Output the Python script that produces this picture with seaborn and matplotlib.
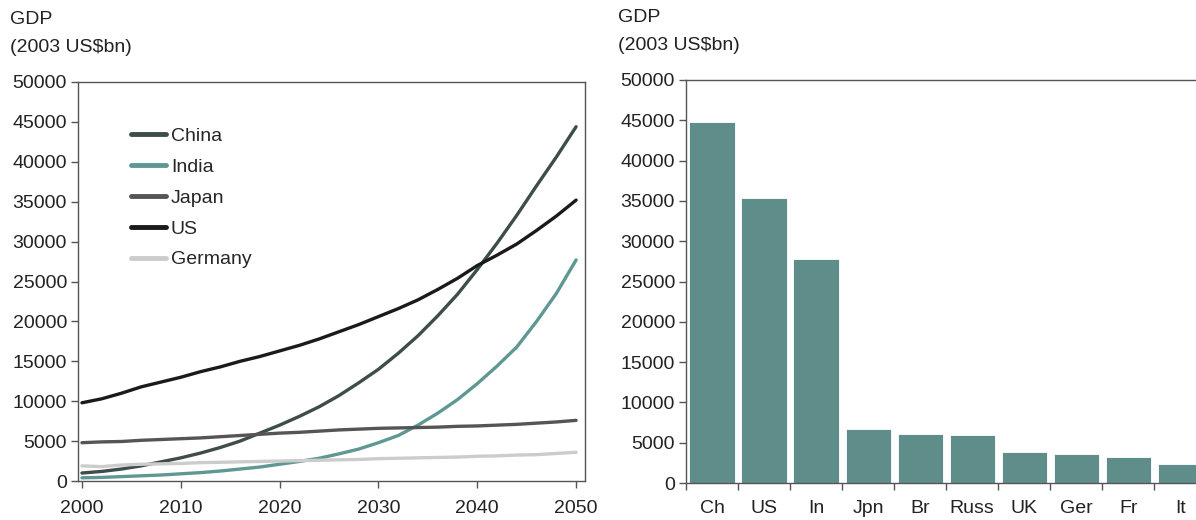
import matplotlib
matplotlib.use("Agg")
import matplotlib.pyplot as plt
from matplotlib.ticker import FixedLocator
import seaborn as sns
import pandas as pd

years = list(range(2000, 2051, 2))
china = [1000, 1200, 1500, 1900, 2400, 2900, 3500, 4200, 5000, 6000, 7000, 8100, 9300,
         10700, 12300, 14000, 16000, 18200, 20700, 23400, 26500, 29800, 33300, 37000, 40600, 44400]
india = [400, 450, 550, 650, 750, 900, 1050, 1250, 1500, 1750, 2100, 2450, 2850,
         3400, 4000, 4800, 5700, 7000, 8500, 10200, 12200, 14400, 16800, 20000, 23500, 27700]
japan = [4800, 4900, 4950, 5100, 5200, 5300, 5400, 5550, 5700, 5850, 6000, 6100, 6250,
         6400, 6500, 6600, 6650, 6700, 6750, 6850, 6900, 7000, 7100, 7250, 7400, 7600]
us = [9800, 10300, 11000, 11800, 12400, 13000, 13700, 14300, 15000, 15600, 16300, 17000, 17800,
      18700, 19600, 20600, 21600, 22700, 24000, 25400, 27000, 28300, 29700, 31400, 33200, 35200]
germany = [1900, 1800, 2000, 2100, 2150, 2200, 2300, 2350, 2400, 2450, 2500, 2550, 2600,
           2650, 2700, 2800, 2850, 2900, 2950, 3000, 3100, 3150, 3250, 3300, 3450, 3600]

countries = ["Ch", "US", "In", "Jpn", "Br", "Russ", "UK", "Ger", "Fr", "It"]
gdp_2050 = [44800, 35300, 27800, 6700, 6100, 5900, 3800, 3600, 3200, 2300]

series = {"China": china, "India": india, "Japan": japan, "US": us, "Germany": germany}
palette = {"China": "#3e4d4a", "India": "#5f9892", "Japan": "#555555",
           "US": "#1a1a1a", "Germany": "#cccccc"}

rows = []
for name, vals in series.items():
    for y, v in zip(years, vals):
        rows.append({"year": y, "gdp": v, "country": name})
df_lines = pd.DataFrame(rows)
df_bars = pd.DataFrame({"country": countries, "gdp": gdp_2050})

sns.set_style("white")
plt.rcParams["font.family"] = ["Liberation Sans", "DejaVu Sans"]
plt.rcParams["axes.edgecolor"] = "#555555"
plt.rcParams["xtick.color"] = "#555555"
plt.rcParams["ytick.color"] = "#555555"
plt.rcParams["xtick.labelcolor"] = "#222222"
plt.rcParams["ytick.labelcolor"] = "#222222"

fig = plt.figure(figsize=(11.96, 5.2), dpi=100)
fs = 14

# left: line chart
ax1 = fig.add_axes([78 / 1196, 39 / 520, 507 / 1196, 399 / 520])
sns.lineplot(data=df_lines, x="year", y="gdp", hue="country", palette=palette,
             linewidth=2.4, ax=ax1)
ax1.set_xlim(1999.6, 2050.9)
ax1.set_ylim(0, 50000)
ax1.set_xticks([2000, 2010, 2020, 2030, 2040, 2050])
ax1.set_yticks(range(0, 50001, 5000))
ax1.tick_params(axis="both", direction="out", length=5, width=1, labelsize=fs, bottom=True, left=True)
ax1.tick_params(axis="y", pad=3)
ax1.tick_params(axis="x", pad=9)
ax1.set_xlabel("")
ax1.set_ylabel("")
for s in ax1.spines.values():
    s.set_linewidth(1)
leg = ax1.legend(loc="upper left", bbox_to_anchor=(0.07, 0.93), frameon=False,
                 fontsize=fs, handlelength=1.8, handletextpad=0.25, labelspacing=0.68)
for line in leg.get_lines():
    line.set_linewidth(3.5)

fig.text(10 / 1196, 1 - 20 / 520, "GDP", fontsize=fs, va="center", ha="left", color="#222222")
fig.text(10 / 1196, 1 - 48 / 520, "(2003 US$bn)", fontsize=fs, va="center", ha="left", color="#222222")

# right: bar chart
ax2 = fig.add_axes([686 / 1196, 37 / 520, 510 / 1196, 403 / 520])
sns.barplot(data=df_bars, x="country", y="gdp", color="#5f8e8a", width=0.87,
            edgecolor="white", linewidth=0.6, saturation=1, ax=ax2)
ax2.set_xlim(-0.5, 9.3)
ax2.set_ylim(0, 50000)
ax2.set_yticks(range(0, 50001, 5000))
ax2.xaxis.set_minor_locator(FixedLocator([i + 0.5 for i in range(-1, 10)]))
ax2.tick_params(axis="x", which="major", length=0, labelsize=fs, pad=12)
ax2.tick_params(axis="x", which="minor", direction="out", length=5, width=1, bottom=True)
ax2.tick_params(axis="y", direction="out", length=5, width=1, labelsize=fs, left=True, pad=3)
ax2.set_xlabel("")
ax2.set_ylabel("")
ax2.spines["right"].set_visible(False)
for s in ax2.spines.values():
    s.set_linewidth(1)

fig.text(618 / 1196, 1 - 18 / 520, "GDP", fontsize=fs, va="center", ha="left", color="#222222")
fig.text(618 / 1196, 1 - 45 / 520, "(2003 US$bn)", fontsize=fs, va="center", ha="left", color="#222222")

fig.savefig("out.png", dpi=100)
